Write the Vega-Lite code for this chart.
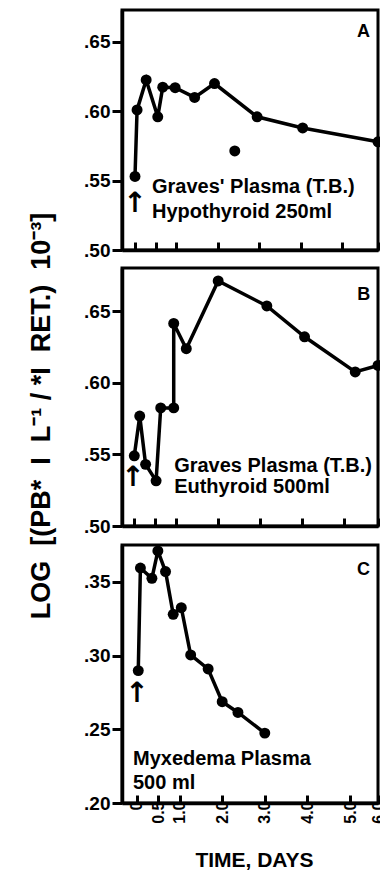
{
  "$schema": "https://vega.github.io/schema/vega-lite/v6.json",
  "background": "white",
  "padding": {"left": 28, "right": 2, "top": 8, "bottom": 2},
  "title": {"text": "LOG\u00a0 [(PB*\u00a0 I\u00a0 L⁻¹ /\u00a0*I\u00a0 RET.)\u00a0 10⁻³]", "orient": "left", "anchor": "middle", "fontSize": 27, "fontWeight": "bold", "font": "Liberation Sans", "color": "black", "offset": 26, "dx": 24},
  "config": {
    "font": "Liberation Sans",
    "view": {"stroke": "black", "strokeWidth": 3},
    "axis": {"domainColor": "black", "domainWidth": 3.5, "tickColor": "black", "tickWidth": 3, "labelColor": "black", "labelFont": "Liberation Sans", "labelFontWeight": "bold", "grid": false, "titleColor": "black", "titleFont": "Liberation Sans"}
  },
  "datasets": {
    "pts": [
      {"panel": "A", "i": 1, "t": 0.0, "v": 0.553, "kind": "line"},
      {"panel": "A", "i": 2, "t": 0.05, "v": 0.601, "kind": "line"},
      {"panel": "A", "i": 3, "t": 0.27, "v": 0.6226, "kind": "line"},
      {"panel": "A", "i": 4, "t": 0.55, "v": 0.596, "kind": "line"},
      {"panel": "A", "i": 5, "t": 0.67, "v": 0.6174, "kind": "line"},
      {"panel": "A", "i": 6, "t": 0.97, "v": 0.617, "kind": "line"},
      {"panel": "A", "i": 7, "t": 1.44, "v": 0.61, "kind": "line"},
      {"panel": "A", "i": 8, "t": 1.92, "v": 0.62, "kind": "line"},
      {"panel": "A", "i": 9, "t": 2.95, "v": 0.596, "kind": "line"},
      {"panel": "A", "i": 10, "t": 4.05, "v": 0.588, "kind": "line"},
      {"panel": "A", "i": 11, "t": 6.0, "v": 0.578, "kind": "line"},
      {"panel": "A", "i": 12, "t": 2.41, "v": 0.5714, "kind": "iso"},
      {"panel": "B", "i": 1, "t": 0.0, "v": 0.549, "kind": "line"},
      {"panel": "B", "i": 2, "t": 0.13, "v": 0.5767, "kind": "line"},
      {"panel": "B", "i": 3, "t": 0.27, "v": 0.543, "kind": "line"},
      {"panel": "B", "i": 4, "t": 0.52, "v": 0.5315, "kind": "line"},
      {"panel": "B", "i": 5, "t": 0.63, "v": 0.5824, "kind": "line"},
      {"panel": "B", "i": 6, "t": 0.94, "v": 0.5824, "kind": "line"},
      {"panel": "B", "i": 7, "t": 0.94, "v": 0.6413, "kind": "line"},
      {"panel": "B", "i": 8, "t": 1.24, "v": 0.6237, "kind": "line"},
      {"panel": "B", "i": 9, "t": 2.0, "v": 0.671, "kind": "line"},
      {"panel": "B", "i": 10, "t": 3.16, "v": 0.6535, "kind": "line"},
      {"panel": "B", "i": 11, "t": 4.06, "v": 0.632, "kind": "line"},
      {"panel": "B", "i": 12, "t": 5.33, "v": 0.6075, "kind": "line"},
      {"panel": "B", "i": 13, "t": 6.0, "v": 0.612, "kind": "line"},
      {"panel": "C", "i": 1, "t": 0.03, "v": 0.2898, "kind": "line"},
      {"panel": "C", "i": 2, "t": 0.08, "v": 0.3594, "kind": "line"},
      {"panel": "C", "i": 3, "t": 0.35, "v": 0.3524, "kind": "line"},
      {"panel": "C", "i": 4, "t": 0.49, "v": 0.371, "kind": "line"},
      {"panel": "C", "i": 5, "t": 0.67, "v": 0.357, "kind": "line"},
      {"panel": "C", "i": 6, "t": 0.85, "v": 0.328, "kind": "line"},
      {"panel": "C", "i": 7, "t": 1.04, "v": 0.3325, "kind": "line"},
      {"panel": "C", "i": 8, "t": 1.26, "v": 0.3004, "kind": "line"},
      {"panel": "C", "i": 9, "t": 1.67, "v": 0.2909, "kind": "line"},
      {"panel": "C", "i": 10, "t": 2.0, "v": 0.2687, "kind": "line"},
      {"panel": "C", "i": 11, "t": 2.37, "v": 0.2614, "kind": "line"},
      {"panel": "C", "i": 12, "t": 3.0, "v": 0.2474, "kind": "line"}
    ],
    "notes": [
      {"panel": "A", "kind": "annot", "t": 0.41, "v": 0.5452, "label": "Graves' Plasma (T.B.)"},
      {"panel": "A", "kind": "annot", "t": 0.41, "v": 0.5274, "label": "Hypothyroid 250ml"},
      {"panel": "A", "kind": "letter", "t": 5.6, "v": 0.6574, "label": "A"},
      {"panel": "A", "kind": "arrow", "t": 0.0, "v": 0.533, "label": "↑"},
      {"panel": "B", "kind": "annot", "t": 0.95, "v": 0.542, "label": "Graves Plasma (T.B.)"},
      {"panel": "B", "kind": "annot", "t": 0.95, "v": 0.5273, "label": "Euthyroid 500ml"},
      {"panel": "B", "kind": "letter", "t": 5.58, "v": 0.6612, "label": "B"},
      {"panel": "B", "kind": "arrow", "t": -0.03, "v": 0.5333, "label": "↑"},
      {"panel": "C", "kind": "annot", "t": -0.094, "v": 0.2301, "label": "Myxedema Plasma"},
      {"panel": "C", "kind": "annot", "t": -0.094, "v": 0.2138, "label": "500 ml"},
      {"panel": "C", "kind": "letter", "t": 5.48, "v": 0.3582, "label": "C"},
      {"panel": "C", "kind": "arrow", "t": 0.0, "v": 0.2736, "label": "↑"}
    ]
  },
  "spacing": 4,
  "vconcat": [
    {
      "width": 256, "height": 240,
      "encoding": {
        "x": {"field": "t", "type": "quantitative", "scale": {"domain": [-0.314, 5, 6], "range": [0, 220, 256]},
              "axis": {"values": [0, 0.5, 1, 2, 3, 4, 5, 6], "labels": false, "tickSize": -8, "title": null}},
        "y": {"field": "v", "type": "quantitative", "scale": {"domain": [0.5, 0.673], "nice": false, "zero": false},
              "axis": {"values": [0.5, 0.55, 0.6, 0.65], "labelExpr": "substring(format(datum.value, '.2f'), 1)", "title": null, "tickSize": 10, "labelFontSize": 19, "labelPadding": 2}}
      },
      "layer": [
        {"data": {"name": "pts"}, "transform": [{"filter": "datum.panel == 'A' && datum.kind == 'line'"}], "mark": {"type": "line", "color": "black", "strokeWidth": 3.5}, "encoding": {"order": {"field": "i", "type": "quantitative"}}},
        {"data": {"name": "pts"}, "transform": [{"filter": "datum.panel == 'A'"}], "mark": {"type": "point", "filled": true, "color": "black", "size": 120, "opacity": 1}},
        {"data": {"name": "notes"}, "transform": [{"filter": "datum.panel == 'A' && datum.kind == 'annot'"}], "mark": {"type": "text", "align": "left", "baseline": "middle", "fontWeight": "bold", "fontSize": 20, "color": "black"}, "encoding": {"text": {"field": "label"}}},
        {"data": {"name": "notes"}, "transform": [{"filter": "datum.panel == 'A' && datum.kind == 'letter'"}], "mark": {"type": "text", "align": "center", "baseline": "middle", "fontWeight": "bold", "fontSize": 18, "color": "black"}, "encoding": {"text": {"field": "label"}}},
        {"data": {"name": "notes"}, "transform": [{"filter": "datum.panel == 'A' && datum.kind == 'arrow'"}], "mark": {"type": "text", "align": "center", "baseline": "middle", "fontSize": 28, "font": "DejaVu Sans", "fontWeight": "bold", "color": "black"}, "encoding": {"text": {"field": "label"}}}
      ]
    },
    {
      "width": 256, "height": 258,
      "encoding": {
        "x": {"field": "t", "type": "quantitative", "scale": {"domain": [-0.293, 5, 6], "range": [0, 222, 256]},
              "axis": {"values": [0, 0.5, 1, 2, 3, 4, 5, 6], "labels": false, "tickSize": -8, "title": null}},
        "y": {"field": "v", "type": "quantitative", "scale": {"domain": [0.5, 0.68], "nice": false, "zero": false},
              "axis": {"values": [0.5, 0.55, 0.6, 0.65], "labelExpr": "substring(format(datum.value, '.2f'), 1)", "title": null, "tickSize": 10, "labelFontSize": 19, "labelPadding": 2}}
      },
      "layer": [
        {"data": {"name": "pts"}, "transform": [{"filter": "datum.panel == 'B' && datum.kind == 'line'"}], "mark": {"type": "line", "color": "black", "strokeWidth": 3.5}, "encoding": {"order": {"field": "i", "type": "quantitative"}}},
        {"data": {"name": "pts"}, "transform": [{"filter": "datum.panel == 'B'"}], "mark": {"type": "point", "filled": true, "color": "black", "size": 120, "opacity": 1}},
        {"data": {"name": "notes"}, "transform": [{"filter": "datum.panel == 'B' && datum.kind == 'annot'"}], "mark": {"type": "text", "align": "left", "baseline": "middle", "fontWeight": "bold", "fontSize": 20, "color": "black"}, "encoding": {"text": {"field": "label"}}},
        {"data": {"name": "notes"}, "transform": [{"filter": "datum.panel == 'B' && datum.kind == 'letter'"}], "mark": {"type": "text", "align": "center", "baseline": "middle", "fontWeight": "bold", "fontSize": 18, "color": "black"}, "encoding": {"text": {"field": "label"}}},
        {"data": {"name": "notes"}, "transform": [{"filter": "datum.panel == 'B' && datum.kind == 'arrow'"}], "mark": {"type": "text", "align": "center", "baseline": "middle", "fontSize": 28, "font": "DejaVu Sans", "fontWeight": "bold", "color": "black"}, "encoding": {"text": {"field": "label"}}}
      ]
    },
    {
      "width": 256, "height": 258,
      "encoding": {
        "x": {"field": "t", "type": "quantitative", "scale": {"domain": [-0.352, 5, 6], "range": [0, 228, 256]},
              "axis": {"values": [0, 0.5, 1, 2, 3, 4, 5, 6], "tickSize": -8, "labelAngle": -90, "labelAlign": "right", "labelBaseline": "middle", "labelFontSize": 16, "labelPadding": 6, "labelOverlap": false, "labelExpr": "datum.value == 0 ? '0' : format(datum.value, '.1f')", "title": "TIME, DAYS", "titleFontSize": 21, "titleFontWeight": "bold", "titleX": 132, "titleY": 46, "titleBaseline": "top", "titleAlign": "center"}},
        "y": {"field": "v", "type": "quantitative", "scale": {"domain": [0.2, 0.375], "nice": false, "zero": false},
              "axis": {"values": [0.2, 0.25, 0.3, 0.35], "labelExpr": "substring(format(datum.value, '.2f'), 1)", "title": null, "tickSize": 10, "labelFontSize": 19, "labelPadding": 2}}
      },
      "layer": [
        {"data": {"name": "pts"}, "transform": [{"filter": "datum.panel == 'C' && datum.kind == 'line'"}], "mark": {"type": "line", "color": "black", "strokeWidth": 3.5}, "encoding": {"order": {"field": "i", "type": "quantitative"}}},
        {"data": {"name": "pts"}, "transform": [{"filter": "datum.panel == 'C'"}], "mark": {"type": "point", "filled": true, "color": "black", "size": 120, "opacity": 1}},
        {"data": {"name": "notes"}, "transform": [{"filter": "datum.panel == 'C' && datum.kind == 'annot'"}], "mark": {"type": "text", "align": "left", "baseline": "middle", "fontWeight": "bold", "fontSize": 20, "color": "black"}, "encoding": {"text": {"field": "label"}}},
        {"data": {"name": "notes"}, "transform": [{"filter": "datum.panel == 'C' && datum.kind == 'letter'"}], "mark": {"type": "text", "align": "center", "baseline": "middle", "fontWeight": "bold", "fontSize": 18, "color": "black"}, "encoding": {"text": {"field": "label"}}},
        {"data": {"name": "notes"}, "transform": [{"filter": "datum.panel == 'C' && datum.kind == 'arrow'"}], "mark": {"type": "text", "align": "center", "baseline": "middle", "fontSize": 28, "font": "DejaVu Sans", "fontWeight": "bold", "color": "black"}, "encoding": {"text": {"field": "label"}}}
      ]
    }
  ]
}
